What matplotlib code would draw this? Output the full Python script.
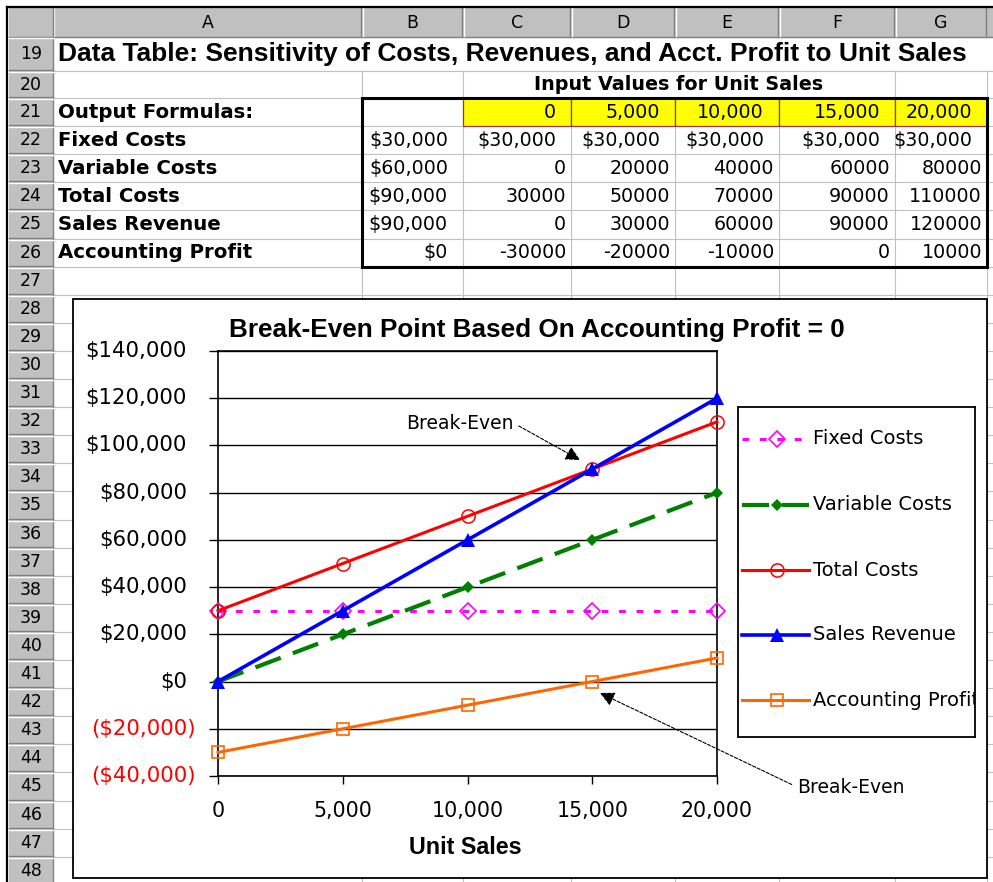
# plot.py
import matplotlib
matplotlib.use('Agg')
import matplotlib.pyplot as plt
import matplotlib.patches as patches

# data of the sheet / chart
unit_sales = [0, 5000, 10000, 15000, 20000]
fixed_costs = [30000, 30000, 30000, 30000, 30000]
variable_costs = [0, 20000, 40000, 60000, 80000]
total_costs = [30000, 50000, 70000, 90000, 110000]
sales_revenue = [0, 30000, 60000, 90000, 120000]
accounting_profit = [-30000, -20000, -10000, 0, 10000]
base_values = [30000, 60000, 90000, 90000, 0]
row_names = ['Fixed Costs', 'Variable Costs', 'Total Costs', 'Sales Revenue', 'Accounting Profit']
y_ticks = [-40000, -20000, 0, 20000, 40000, 60000, 80000, 100000, 120000, 140000]
x_ticks = [0, 5000, 10000, 15000, 20000]
col_letters = ['A', 'B', 'C', 'D', 'E', 'F', 'G']
row_numbers = list(range(19, 49))
sheet_title = 'Data Table: Sensitivity of Costs, Revenues, and Acct. Profit to Unit Sales'
chart_title = 'Break-Even Point Based On Accounting Profit = 0'

# pixel layout of the screenshot
W, H = 993, 882
col_x = [53, 362, 463, 571, 675, 779, 895, 987]
row_y = [37, 71, 98] + [98 + 28.1 * k for k in range(1, 29)]
GRID = '#c0c0c0'
HEAD = '#c0c0c0'
BOLD_ARIAL = 'Liberation Sans'


def money(v):
    return '${:,.0f}'.format(v)


def row_mid(r):
    i = r - 19
    return (row_y[i] + row_y[i + 1]) / 2.0


fig = plt.figure(figsize=(W / 100, H / 100), dpi=100)
bg = fig.add_axes([0, 0, 1, 1])
bg.set_xlim(0, W)
bg.set_ylim(H, 0)
bg.axis('off')

# gridlines
for y in row_y:
    bg.plot([53, W], [y, y], color=GRID, lw=0.8, zorder=1)
for x in col_x[1:]:
    top = 98 if x in (571, 675, 779) else 71
    bg.plot([x, x], [top, H], color=GRID, lw=0.8, zorder=1)

# column header row
bg.add_patch(patches.Rectangle((9, 8), W - 9, 29, facecolor=HEAD, edgecolor='none', zorder=2))
bg.plot([9, W], [37, 37], color='#808080', lw=1, zorder=3)
for i, letter in enumerate(col_letters):
    x1, x2 = col_x[i], col_x[i + 1]
    bg.plot([x1 + 1, x1 + 1], [8, 36], color='white', lw=1, zorder=3)
    bg.plot([x2 - 1, x2 - 1], [8, 36], color='#808080', lw=1, zorder=3)
    bg.text((x1 + x2) / 2.0, 23, letter, ha='center', va='center', fontsize=12.5, zorder=4)
bg.plot([53, 53], [8, 36], color='#808080', lw=1, zorder=3)

# row header column
bg.add_patch(patches.Rectangle((9, 37), 44, H - 37, facecolor=HEAD, edgecolor='none', zorder=2))
bg.plot([53, 53], [37, H], color='#808080', lw=1, zorder=3)
for i, r in enumerate(row_numbers):
    y1, y2 = row_y[i], row_y[i + 1]
    bg.plot([9, 53], [y1 + 1, y1 + 1], color='white', lw=1, zorder=3)
    bg.plot([9, 53], [y2 - 1, y2 - 1], color='#808080', lw=1, zorder=3)
    bg.text(31, row_mid(r), str(r), ha='center', va='center', fontsize=12.5, zorder=4)

# window frame
bg.plot([7, W], [7, 7], color='black', lw=1.6, zorder=5)
bg.plot([7, 7], [7, H], color='black', lw=1.6, zorder=5)

# sheet texts
bg.text(58, row_mid(19), sheet_title, ha='left', va='center', fontsize=19,
        fontweight='bold', family=BOLD_ARIAL, zorder=4)
bg.text((col_x[2] + col_x[6]) / 2.0, row_mid(20), 'Input Values for Unit Sales',
        ha='center', va='center', fontsize=13.8, fontweight='bold', zorder=4)
bg.text(58, row_mid(21), 'Output Formulas:', ha='left', va='center', fontsize=14.2,
        fontweight='bold', zorder=4)

# yellow input cells
for j, u in enumerate(unit_sales):
    x1, x2 = col_x[2 + j], col_x[3 + j]
    bg.add_patch(patches.Rectangle((x1, row_y[2]), x2 - x1, row_y[3] - row_y[2],
                                   facecolor='#ffff00', edgecolor='#993366', lw=0.9, zorder=2))
    bg.text(x2 - 15, row_mid(21), '{:,}'.format(u), ha='right', va='center',
            fontsize=13.7, zorder=4)

table = [fixed_costs, variable_costs, total_costs, sales_revenue, accounting_profit]
for k, name in enumerate(row_names):
    r = 22 + k
    bg.text(58, row_mid(r), name, ha='left', va='center', fontsize=14.2,
            fontweight='bold', zorder=4)
    bg.text(col_x[2] - 15, row_mid(r), money(base_values[k]), ha='right', va='center',
            fontsize=13.7, zorder=4)
    for j, v in enumerate(table[k]):
        x2 = col_x[3 + j]
        if k == 0:
            bg.text(x2 - 15, row_mid(r), money(v), ha='right', va='center', fontsize=13.7, zorder=4)
        else:
            bg.text(x2 - 5, row_mid(r), str(v), ha='right', va='center', fontsize=13.7, zorder=4)

# thick border round the data table
bg.add_patch(patches.Rectangle((col_x[1], row_y[2]), col_x[7] - col_x[1], row_y[8] - row_y[2],
                               fill=False, edgecolor='black', lw=2.2, zorder=5))

# chart area
bg.add_patch(patches.Rectangle((73, 299), 914, 579, facecolor='white', edgecolor='black',
                               lw=1.3, zorder=6))

# plot area
L, R, T, B = 218, 717, 351, 776
ax = fig.add_axes([L / W, 1 - B / H, (R - L) / W, (B - T) / H])
ax.set_xlim(0, 20000)
ax.set_ylim(-40000, 140000)
ax.set_xticks(x_ticks)
ax.set_yticks(y_ticks)
ax.set_xticklabels(['{:,}'.format(v) for v in x_ticks], fontsize=14.8)
ax.set_yticklabels([])
ax.yaxis.grid(True, color='black', lw=1.0)
ax.set_axisbelow(True)
for s in ax.spines.values():
    s.set_linewidth(1.2)
ax.tick_params(axis='y', direction='out', length=6.5, width=1)
ax.tick_params(axis='x', direction='out', length=6, width=1, pad=12)

for v in y_ticks:
    if v < 0:
        ax.text(-22 / (R - L), v, '(' + money(-v) + ')', transform=ax.get_yaxis_transform(),
                ha='right', va='center', fontsize=15.3, color='#ff0000')
    else:
        ax.text(-31 / (R - L), v, money(v), transform=ax.get_yaxis_transform(),
                ha='right', va='center', fontsize=15.3)

styles = [
    dict(color='#ff00ff', lw=2.2, dashes=(2.2, 3.5), marker='D', ms=8, mfc='none', mew=1.2),
    dict(color='#008000', lw=3.0, dashes=(6.5, 3.1), marker='D', ms=6.5, mew=0),
    dict(color='#ff0000', lw=2.2, marker='o', ms=9.5, mfc='none', mew=1.1),
    dict(color='#0000ff', lw=2.6, marker='^', ms=9.5, mew=0),
    dict(color='#ff6600', lw=2.2, marker='s', ms=9, mfc='none', mew=1.2),
]
for vals, st in zip(table, styles):
    ax.plot(unit_sales, vals, clip_on=False, zorder=3, **st)

ax.text((537 - L) / (R - L), 1 + (T - 330) / (B - T), chart_title, transform=ax.transAxes,
        ha='center', va='center', fontsize=18.8, fontweight='bold', family=BOLD_ARIAL)
ax.set_xlabel('Unit Sales', fontsize=16.8, fontweight='bold', family=BOLD_ARIAL)
ax.xaxis.set_label_coords((465 - L) / (R - L), -(848 - B) / (B - T))
ax.xaxis.label.set_va('center')

# break-even notes
ax.annotate('Break-Even', xy=(14509, 93834), xytext=(7535, 109500), textcoords='data',
            ha='left', va='center', fontsize=13.5,
            arrowprops=dict(arrowstyle='-|>', color='black', lw=0.8, mutation_scale=22,
                            shrinkA=2, shrinkB=0, relpos=(1, 0.5), linestyle=(0, (3, 1.5))))
ax.annotate('Break-Even', xy=(15311, -4854), xytext=(23206, -44668), textcoords='data',
            ha='left', va='center', fontsize=13.5, annotation_clip=False,
            arrowprops=dict(arrowstyle='-|>', color='black', lw=0.8, mutation_scale=22,
                            shrinkA=2, shrinkB=0, relpos=(0, 0.5), linestyle=(0, (3, 1.5))))

# legend box
lx1, ly1, lx2, ly2 = 738, 407, 975, 737
lax = fig.add_axes([lx1 / W, 1 - ly2 / H, (lx2 - lx1) / W, (ly2 - ly1) / H])
lax.set_xlim(0, lx2 - lx1)
lax.set_ylim(ly2 - ly1, 0)
lax.set_xticks([])
lax.set_yticks([])
for s in lax.spines.values():
    s.set_linewidth(1.3)
leg_y = [32, 98, 163, 228, 293]
for name, st, y in zip(row_names, styles, leg_y):
    line_st = {k: v for k, v in st.items() if k not in ('marker', 'ms', 'mfc', 'mew')}
    lax.plot([4, 71], [y, y], **line_st)
    mark_st = {k: v for k, v in st.items() if k in ('color', 'marker', 'ms', 'mfc', 'mew')}
    lax.plot([39], [y], ls='none', **mark_st)
    lax.text(75, y, name, ha='left', va='center', fontsize=14, clip_on=True)

plt.savefig('out.png', dpi=100)
print('save out.png')
